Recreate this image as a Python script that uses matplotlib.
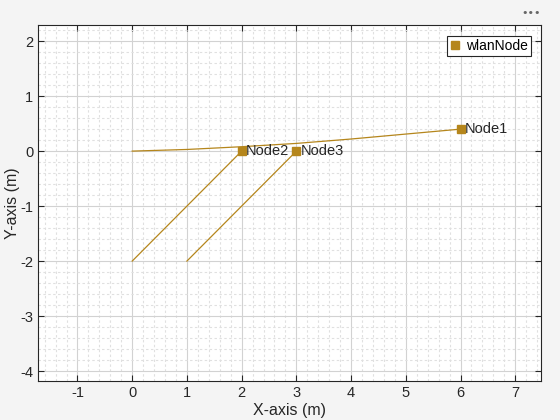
import numpy as np
import matplotlib.pyplot as plt
from matplotlib.ticker import MultipleLocator

plt.rcParams['font.family'] = ['Liberation Sans', 'DejaVu Sans']
plt.rcParams['axes.unicode_minus'] = False

# node positions
node_names = ['Node1', 'Node2', 'Node3']
node_x = [6, 2, 3]
node_y = [0.4, 0, 0]

# trajectories leading to each node
path1_x = [0, 1, 2, 3, 4, 5, 6]
path1_y = [0, 0.03, 0.08, 0.14, 0.22, 0.31, 0.4]
path2_x = [0, 2]
path2_y = [-2, 0]
path3_x = [1, 3]
path3_y = [-2, 0]

col = '#b5861c'
ink = '#262626'

fig = plt.figure(figsize=(5.6, 4.2), dpi=100, facecolor='#f4f4f4')
ax = fig.add_axes([0.068, 0.093, 0.898, 0.847])

for px, py in [(path1_x, path1_y), (path2_x, path2_y), (path3_x, path3_y)]:
    ax.plot(px, py, c=col, lw=0.9, zorder=3)

ax.plot(node_x, node_y, linestyle='None', marker='s', ms=6, c=col, label='wlanNode', zorder=4)
for name, x, y in zip(node_names, node_x, node_y):
    ax.text(x + 0.08, y, name, fontsize=10.5, va='center', ha='left', color=ink, zorder=5)

ax.set_xlim(-1.72, 7.47)
ax.set_ylim(-4.18, 2.29)
ax.xaxis.set_major_locator(MultipleLocator(1))
ax.yaxis.set_major_locator(MultipleLocator(1))
ax.xaxis.set_minor_locator(MultipleLocator(0.2))
ax.yaxis.set_minor_locator(MultipleLocator(0.2))
ax.grid(which='major', color='#d2d2d2', lw=0.8)
ax.grid(which='minor', color='#e0e0e0', lw=0.8, linestyle=(0, (2.2, 2.2)))
ax.set_axisbelow(True)
ax.tick_params(which='both', direction='in', top=True, right=True, labelsize=10.5, colors=ink)
ax.tick_params(which='minor', length=0)
ax.tick_params(which='major', length=4)
for s in ax.spines.values():
    s.set_color(ink)
    s.set_linewidth(0.8)

ax.set_xlabel('X-axis (m)', fontsize=11.5, color=ink, labelpad=2)
ax.set_ylabel('Y-axis (m)', fontsize=11.5, color=ink)
ax.yaxis.set_label_coords(-0.035, 0.5)

leg = ax.legend(loc='upper right', bbox_to_anchor=(0.980, 0.969), borderaxespad=0,
                fontsize=10, fancybox=False, framealpha=1, edgecolor=ink,
                handlelength=0.8, handletextpad=0.4, borderpad=0.2)
leg.get_frame().set_linewidth(0.8)

fig.text(0.949, 0.968, '•••', fontsize=8, color='#666666', ha='center', va='center',
         family='DejaVu Sans')

plt.savefig('out.png', dpi=100, facecolor=fig.get_facecolor())
plt.close()
